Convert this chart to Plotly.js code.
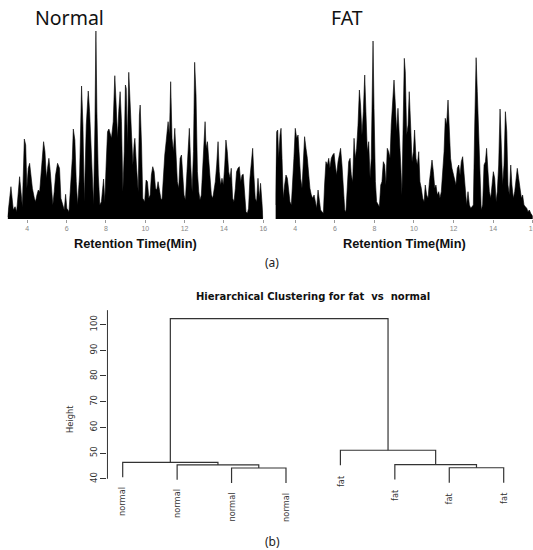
<!DOCTYPE html>
<html>
<head>
<meta charset="utf-8">
<script src="https://cdn.plot.ly/plotly-3.0.1.min.js"></script>
<style>html,body{margin:0;padding:0;background:#fff;}#chart{width:533px;height:550px;}</style>
</head>
<body>
<div id="chart"></div>
<script>
// ---------- (a) chromatograms: retention time (min) and intensity ----------
const normalTime = [3.00,3.17,3.29,3.38,3.46,3.54,3.61,3.68,3.75,3.85,
  3.92,3.98,4.05,4.12,4.19,4.26,4.36,4.42,4.49,4.56,
  4.63,4.70,4.76,4.83,4.90,4.97,5.03,5.10,5.17,5.24,
  5.30,5.37,5.44,5.54,5.64,5.71,5.81,5.88,5.95,6.01,
  6.12,6.22,6.29,6.34,6.42,6.49,6.56,6.66,6.73,6.76,
  6.83,6.90,7.00,7.10,7.17,7.23,7.30,7.37,7.44,7.49,
  7.54,7.61,7.69,7.77,7.88,7.94,8.01,8.08,8.15,8.21,
  8.28,8.37,8.45,8.52,8.59,8.65,8.72,8.79,8.86,8.93,
  8.99,9.03,9.09,9.16,9.23,9.30,9.37,9.43,9.47,9.55,
  9.64,9.70,9.74,9.81,9.87,9.97,10.04,10.11,10.18,10.25,
  10.31,10.38,10.45,10.52,10.58,10.65,10.72,10.79,10.85,10.92,
  10.99,11.06,11.13,11.16,11.23,11.29,11.36,11.43,11.50,11.57,
  11.63,11.70,11.77,11.84,11.90,11.97,12.04,12.11,12.17,12.24,
  12.31,12.38,12.45,12.51,12.58,12.65,12.72,12.78,12.85,12.92,
  12.99,13.04,13.09,13.16,13.22,13.29,13.36,13.43,13.49,13.56,
  13.63,13.70,13.76,13.83,13.90,13.97,14.04,14.10,14.17,14.24,
  14.31,14.37,14.44,14.51,14.58,14.64,14.71,14.78,14.85,14.92,
  14.98,15.05,15.12,15.19,15.25,15.32,15.39,15.46,15.52,15.59,
  15.66,15.73,15.80,15.86,15.93,15.98];
const normalIntensity = [2,32.3,9,12.3,7.3,30.7,42.3,27.3,12.3,80,
  74,30.7,50.7,55.7,44,30.7,20.7,17.3,24,29,
  27.3,47.3,60.7,77.3,67.3,40.7,50.7,60.7,47.3,27.3,
  14,27.3,44,55.7,50.7,20.7,14,9,24.7,10.7,
  7.3,34,60.7,90,79,37.3,14,44,94,133,
  94,17.3,94,128,107.3,77.3,37.3,14,94,188,
  107.3,44,14,17.3,40,17.3,54,87.3,90,84,
  80.7,97.3,143.3,114,80.7,107.3,127.3,97.3,27.3,67.3,
  134,130.7,74,146.7,110.7,77.3,54,74,80.7,54,
  27.3,104,114,74,20.7,17.3,39,37.3,20.7,24,
  44,52.3,47.3,30.7,29,37.3,27.3,20.7,19,44,
  64,77.3,90.7,97.3,84,137.3,80.7,67.3,90.7,64,
  37.3,30.7,60.7,64,44,24,19,44,70.7,90.7,
  54,27.3,67.3,156.7,124,47.3,27.3,19,24,47.3,
  70.7,97.3,70.7,77.3,60.7,37.3,24,20.7,27.3,37.3,
  54,77.3,47.3,34,40.7,34,54,79,67.3,47.3,
  40.7,50.7,20.7,17.3,30.7,47.3,50.7,52.3,37.3,44,
  44.7,20.7,7.3,5.7,10.7,40.7,60.7,70.7,44,20.7,
  17.3,40.7,20.7,35.7,17.3,0.7];

const fatTime = [2.99,3.06,3.11,3.16,3.23,3.28,3.33,3.39,3.46,3.53,
  3.60,3.66,3.73,3.80,3.87,3.93,4.00,4.07,4.14,4.20,
  4.27,4.34,4.41,4.47,4.54,4.61,4.68,4.74,4.81,4.88,
  4.95,5.01,5.08,5.15,5.22,5.28,5.35,5.42,5.48,5.55,
  5.62,5.69,5.75,5.82,5.89,5.96,6.02,6.09,6.16,6.23,
  6.29,6.36,6.43,6.50,6.56,6.63,6.70,6.77,6.83,6.90,
  6.97,7.03,7.10,7.17,7.24,7.30,7.37,7.44,7.51,7.57,
  7.64,7.71,7.78,7.84,7.93,7.98,8.05,8.11,8.18,8.25,
  8.32,8.38,8.45,8.52,8.58,8.65,8.72,8.79,8.85,8.92,
  8.99,9.06,9.12,9.19,9.26,9.33,9.39,9.46,9.51,9.56,
  9.63,9.70,9.76,9.83,9.90,9.97,10.03,10.10,10.17,10.24,
  10.30,10.37,10.44,10.51,10.57,10.64,10.71,10.78,10.84,10.91,
  10.98,11.05,11.11,11.18,11.25,11.31,11.38,11.45,11.52,11.58,
  11.65,11.72,11.79,11.85,11.92,11.99,12.06,12.12,12.19,12.26,
  12.33,12.39,12.46,12.53,12.60,12.66,12.73,12.80,12.87,12.93,
  13.00,13.07,13.14,13.20,13.27,13.34,13.40,13.47,13.54,13.61,
  13.67,13.74,13.81,13.88,13.94,14.01,14.08,14.15,14.21,14.28,
  14.35,14.42,14.48,14.55,14.62,14.69,14.75,14.82,14.89,14.95,
  15.02,15.09,15.16,15.22,15.29,15.36,15.43,15.49,15.56,15.63,
  15.70,15.76,15.83,15.90,15.97,16.02];
const fatIntensity = [14,87.3,89,60.7,84,90.7,60.7,20.7,34,44,
  40.7,27.3,17.3,14,34,60.7,90.7,80.7,84,64,
  40.7,30.7,54,82.3,70.7,60.7,44,30.7,24,20.7,
  24,17.3,10.7,29,20.7,9,7.3,5.7,34,57.3,
  54,60.7,50.7,60.7,64,65.7,54,44,57.3,67.3,
  70.7,54,27.3,9,7.3,40.7,57.3,60.7,44,37.3,
  80.7,60.7,70.7,94,129,114,84,107.3,144,107.3,
  67.3,77.3,40.7,60.7,178,110.7,37.3,17.3,14,12.3,
  34,37.3,57.3,54,34,70.7,67.3,60.7,94,120.7,
  139,114,87.3,110.7,87.3,54,24,107.3,160.7,147.3,
  84,94,127.3,94,57.3,67.3,89,60.7,54,67.3,
  37.3,30.7,20.7,17.3,34,24,20.7,37.3,47.3,59,
  47.3,30.7,34,24,27.3,20.7,27.3,47.3,67.3,100.7,
  94,119,94,60.7,50.7,44,37.3,34,50.7,54,
  44,57.3,62.3,44,27.3,14,27.3,14,10.7,12.3,
  14,94,161.3,127.3,77.3,37.3,9,14,54,57.3,
  70.7,47.3,27.3,20.7,34,47.3,40.7,17.3,27.3,54,
  110,70.7,34,54,107.3,87.3,34,24,54,34,
  20.7,27.3,37.3,50.7,40.7,27.3,20.7,24,14,12.3,
  10.7,7.3,9,5.7,4,2.3];

const timeTicks = [4, 6, 8, 10, 12, 14, 16];

// ---------- (b) hierarchical clustering ----------
const leafLabels = ['normal','normal','normal','normal','fat','fat','fat','fat'];
// R-style merge table: negative = leaf (1-based position), positive = earlier merge step
const mergeA = [-3, -7, -2, -6, -1, -5, 5];
const mergeB = [-4, -8, 1, 2, 3, 4, 6];
const mergeHeight = [44.2, 44.3, 45.4, 45.5, 46.4, 51.1, 102.3];
const hangFraction = 0.1;
const heightTicks = [40, 50, 60, 70, 80, 90, 100];

// build dendrogram segments from the merge table
const hMax = Math.max(...mergeHeight), hMin = Math.min(...mergeHeight);
const hang = hangFraction * (hMax - hMin);
const nodeX = [];
const leafBottom = new Array(leafLabels.length);
const segX = [], segY = [];
mergeHeight.forEach((h, k) => {
  const ends = [mergeA[k], mergeB[k]].map(c => {
    if (c < 0) { leafBottom[-c - 1] = h - hang; return {x: -c, y: h - hang}; }
    return {x: nodeX[c - 1], y: mergeHeight[c - 1]};
  });
  segX.push(ends[0].x, ends[0].x, ends[1].x, ends[1].x, null);
  segY.push(ends[0].y, h, h, ends[1].y, null);
  nodeX[k] = (ends[0].x + ends[1].x) / 2;
});

const px = v => v / 533, py = v => 1 - v / 550;

const traces = [
  {x: normalTime, y: normalIntensity, xaxis: 'x', yaxis: 'y', type: 'scatter', mode: 'lines',
   fill: 'tozeroy', fillcolor: '#000', line: {color: '#000', width: 0.6}, hoverinfo: 'skip'},
  {x: fatTime, y: fatIntensity, xaxis: 'x2', yaxis: 'y2', type: 'scatter', mode: 'lines',
   fill: 'tozeroy', fillcolor: '#000', line: {color: '#000', width: 0.6}, hoverinfo: 'skip'},
  {x: segX, y: segY, xaxis: 'x3', yaxis: 'y3', type: 'scatter', mode: 'lines',
   line: {color: '#333', width: 1.2}, connectgaps: false, hoverinfo: 'skip'}
];

const chromX = {
  range: [3, 16], tickvals: timeTicks, ticktext: timeTicks.map(String),
  ticks: 'outside', ticklen: 3, tickwidth: 1, tickcolor: '#999',
  tickfont: {family: 'Liberation Sans', size: 7, color: '#888'},
  showgrid: false, zeroline: false, showline: false, fixedrange: true,
  ticklabeloverflow: 'allow'
};
const chromY = {range: [0, 195], showgrid: false, zeroline: false, showline: false,
  showticklabels: false, ticks: '', fixedrange: true};

const annFont = {family: 'DejaVu Sans', size: 8.3, color: '#333'};
const annotations = [
  {text: 'Normal', xref: 'paper', yref: 'paper', x: px(35), y: py(18), xanchor: 'left', yanchor: 'middle',
   showarrow: false, font: {family: 'Noto Sans', size: 19.5, color: '#111'}, borderpad: 0, borderwidth: 0},
  {text: 'FAT', xref: 'paper', yref: 'paper', x: px(331), y: py(18), xanchor: 'left', yanchor: 'middle',
   showarrow: false, font: {family: 'Noto Sans', size: 19.5, color: '#111'}, borderpad: 0, borderwidth: 0},
  {text: 'Retention Time(Min)', xref: 'paper', yref: 'paper', x: px(135), y: py(244), xanchor: 'center', yanchor: 'middle',
   showarrow: false, font: {family: 'Liberation Sans', size: 12.8, color: '#111', weight: 'bold'}, borderpad: 0, borderwidth: 0},
  {text: 'Retention Time(Min)', xref: 'paper', yref: 'paper', x: px(404), y: py(244), xanchor: 'center', yanchor: 'middle',
   showarrow: false, font: {family: 'Liberation Sans', size: 12.8, color: '#111', weight: 'bold'}, borderpad: 0, borderwidth: 0},
  {text: '(a)', xref: 'paper', yref: 'paper', x: px(272), y: py(262), xanchor: 'center', yanchor: 'middle',
   showarrow: false, font: {family: 'Noto Sans', size: 12, color: '#222'}, borderpad: 0, borderwidth: 0},
  {text: '(b)', xref: 'paper', yref: 'paper', x: px(272), y: py(541), xanchor: 'center', yanchor: 'middle',
   showarrow: false, font: {family: 'Noto Sans', size: 12, color: '#222'}, borderpad: 0, borderwidth: 0},
  {text: 'Hierarchical Clustering for fat\u00a0\u00a0vs\u00a0\u00a0normal', xref: 'paper', yref: 'paper',
   x: px(313), y: py(296), xanchor: 'center', yanchor: 'middle', showarrow: false,
   font: {family: 'DejaVu Sans', size: 10, color: '#111', weight: 'bold'}, borderpad: 0, borderwidth: 0},
  {text: 'Height', xref: 'paper', yref: 'y3', x: px(70), y: 63.3, xanchor: 'center', yanchor: 'middle',
   textangle: -90, showarrow: false, font: annFont, borderpad: 0, borderwidth: 0}
];
leafLabels.forEach((lab, i) => {
  annotations.push({text: lab, xref: 'x3', yref: 'y3', x: i + 1, y: leafBottom[i],
    xanchor: 'center', yanchor: 'top', yshift: -9.5, textangle: -90, showarrow: false,
    font: annFont, borderpad: 0, borderwidth: 0});
});

const layout = {
  width: 533, height: 550, margin: {l: 0, r: 0, t: 0, b: 0},
  paper_bgcolor: '#fff', plot_bgcolor: 'rgba(0,0,0,0)', showlegend: false,
  xaxis: Object.assign({}, chromX, {domain: [px(7.6), px(263.3)], anchor: 'y'}),
  yaxis: Object.assign({}, chromY, {domain: [py(219), py(24)], anchor: 'x'}),
  xaxis2: Object.assign({}, chromX, {domain: [px(275.5), px(532.7)], anchor: 'y2'}),
  yaxis2: Object.assign({}, chromY, {domain: [py(219), py(24)], anchor: 'x2'}),
  xaxis3: {domain: [px(107.46), px(518.94)], range: [0.72, 8.28], anchor: 'y3',
    showgrid: false, zeroline: false, showline: false, showticklabels: false, ticks: '', fixedrange: true},
  yaxis3: {domain: [py(504.5), py(304)], range: [30, 108], anchor: 'x3',
    tickvals: heightTicks, ticktext: heightTicks.map(String), ticks: 'outside', ticklen: 6,
    tickwidth: 1, tickcolor: '#333', tickangle: -90,
    tickfont: {family: 'DejaVu Sans', size: 8.5, color: '#333'},
    showgrid: false, zeroline: false, showline: false, fixedrange: true},
  shapes: [
    {type: 'line', xref: 'x3 domain', yref: 'y3', x0: 0, x1: 0, y0: heightTicks[0], y1: 105.6,
     line: {color: '#333', width: 1}}
  ],
  annotations: annotations
};

Plotly.newPlot('chart', traces, layout, {displayModeBar: false, staticPlot: true});
</script>
</body>
</html>
